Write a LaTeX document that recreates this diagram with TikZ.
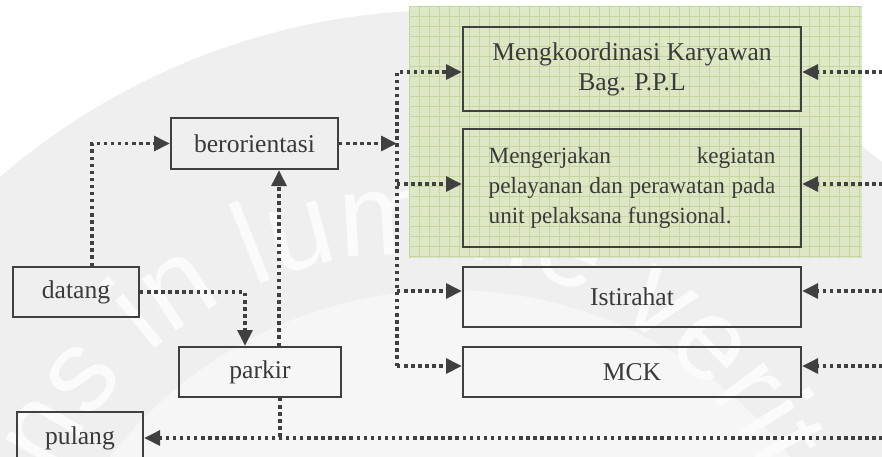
\documentclass[tikz,border=0pt]{standalone}
\usepackage{fontspec}
\setmainfont{Liberation Serif}
\newfontfamily\wmfont{Liberation Sans}
\usetikzlibrary{arrows.meta,decorations.text,calc}

\definecolor{ink}{HTML}{3A3A3A}
\definecolor{linegray}{HTML}{404040}
\definecolor{wmouter}{HTML}{EFEFEF}
\definecolor{wminner}{HTML}{F6F6F6}
\definecolor{wmtext}{HTML}{FBFBFB}
\definecolor{gridfill}{RGB}{220,231,195}
\definecolor{gridline}{RGB}{197,214,160}

\begin{document}
\begin{tikzpicture}[x=0.75pt,y=-0.75pt,
  box/.style={draw=linegray, line width=1.5pt, inner sep=0pt, text=ink,
    font=\fontsize{19.2pt}{22.5pt}\selectfont},
  flow/.style={draw=linegray, line width=2.7pt, dash pattern=on 2.6pt off 2.7pt},
  tip/.style={-{Triangle[length=12pt,width=11pt]}}]
\useasboundingbox (0,0) rectangle (882,457);
\clip (0,0) rectangle (882,457);

% faint seal in the background
\fill[wmouter] (450,700) circle[radius=690];
\fill[wminner] (450,720) circle[radius=430];
\path[decorate, decoration={text along path, text color=wmtext,
    text={|\fontsize{88pt}{88pt}\selectfont\wmfont|Serviens in lumine veritatis}}]
  (410,644) ++(156.3:390) arc[start angle=156.3, end angle=420, radius=390];

% green gridded panel
\begin{scope}
  \fill[gridfill, opacity=0.93] (409,6) rectangle (862,258);
  \clip (409,6) rectangle (862,258);
  \foreach \gx in {409,419,...,869} \draw[gridline, line width=0.6pt] (\gx,6) -- (\gx,258);
  \foreach \gy in {6,16,...,266} \draw[gridline, line width=0.6pt] (409,\gy) -- (862,\gy);
\end{scope}

% boxes
\node[box, minimum width=125.25pt, minimum height=38.25pt] (orient) at (254.5,143.5) {berorientasi};
\node[box, minimum width=94.5pt, minimum height=37.5pt] (datang) at (76,292) {datang};
\node[box, minimum width=121.5pt, minimum height=37.5pt] (parkir) at (260,372) {parkir};
\node[box, minimum width=94.5pt, minimum height=39pt] (pulang) at (80,438) {pulang};
\node[box, minimum width=253.5pt, minimum height=63pt, align=center] (koord) at (632,69)
  {Mengkoordinasi Karyawan\\Bag. P.P.L};
\node[box, minimum width=253.5pt, minimum height=88.5pt, text width=215pt, align=justify,
  font=\fontsize{17.4pt}{22.5pt}\selectfont] (kerja) at (632,188)
  {\hyphenpenalty=10000 \tolerance=10000 Mengerjakan kegiatan\linebreak pelayanan dan perawatan pada unit pelaksana fungsional.};
\node[box, minimum width=253.5pt, minimum height=45pt] (istirahat) at (632,297) {Istirahat};
\node[box, minimum width=253.5pt, minimum height=37.5pt] (mck) at (632,372) {MCK};

% routing points
\coordinate (busT) at (397,72);
\coordinate (busB) at (397,366);
\coordinate (bus2) at (397,184);
\coordinate (bus3) at (397,291);
\coordinate (dc) at (92,143.5);
\coordinate (dp) at (245,292);
\coordinate (po) at (279,300);
\coordinate (pb) at (280,438);
\coordinate (r1) at (890,72);
\coordinate (r2) at (890,184);
\coordinate (r3) at (890,291);
\coordinate (r4) at (890,366);
\coordinate (r5) at (890,438);

% left side flows
\draw[flow,tip] (datang.north -| dc) -- (dc) -- (orient.west);
\draw[flow,tip] (datang.east) -- (dp) -- (parkir.north -| dp);
\draw[flow,tip] (parkir.north -| po) -- (orient.south -| po);
\draw[flow,tip] (orient.east) -- (orient.east -| busT);

% distribution bus
\draw[flow,tip] (busB) -- (busT) -- (koord.west |- busT);
\draw[flow,tip] (bus2) -- (kerja.west |- bus2);
\draw[flow,tip] (bus3) -- (istirahat.west |- bus3);
\draw[flow,tip] (busB) -- (mck.west |- busB);

% incoming from the right
\draw[flow,tip] (r1) -- (koord.east |- r1);
\draw[flow,tip] (r2) -- (kerja.east |- r2);
\draw[flow,tip] (r3) -- (istirahat.east |- r3);
\draw[flow,tip] (r4) -- (mck.east |- r4);

% return line
\draw[flow,tip] (r5) -- (pulang.east);
\draw[flow] (parkir.south -| pb) -- (pb);
\end{tikzpicture}
\end{document}
